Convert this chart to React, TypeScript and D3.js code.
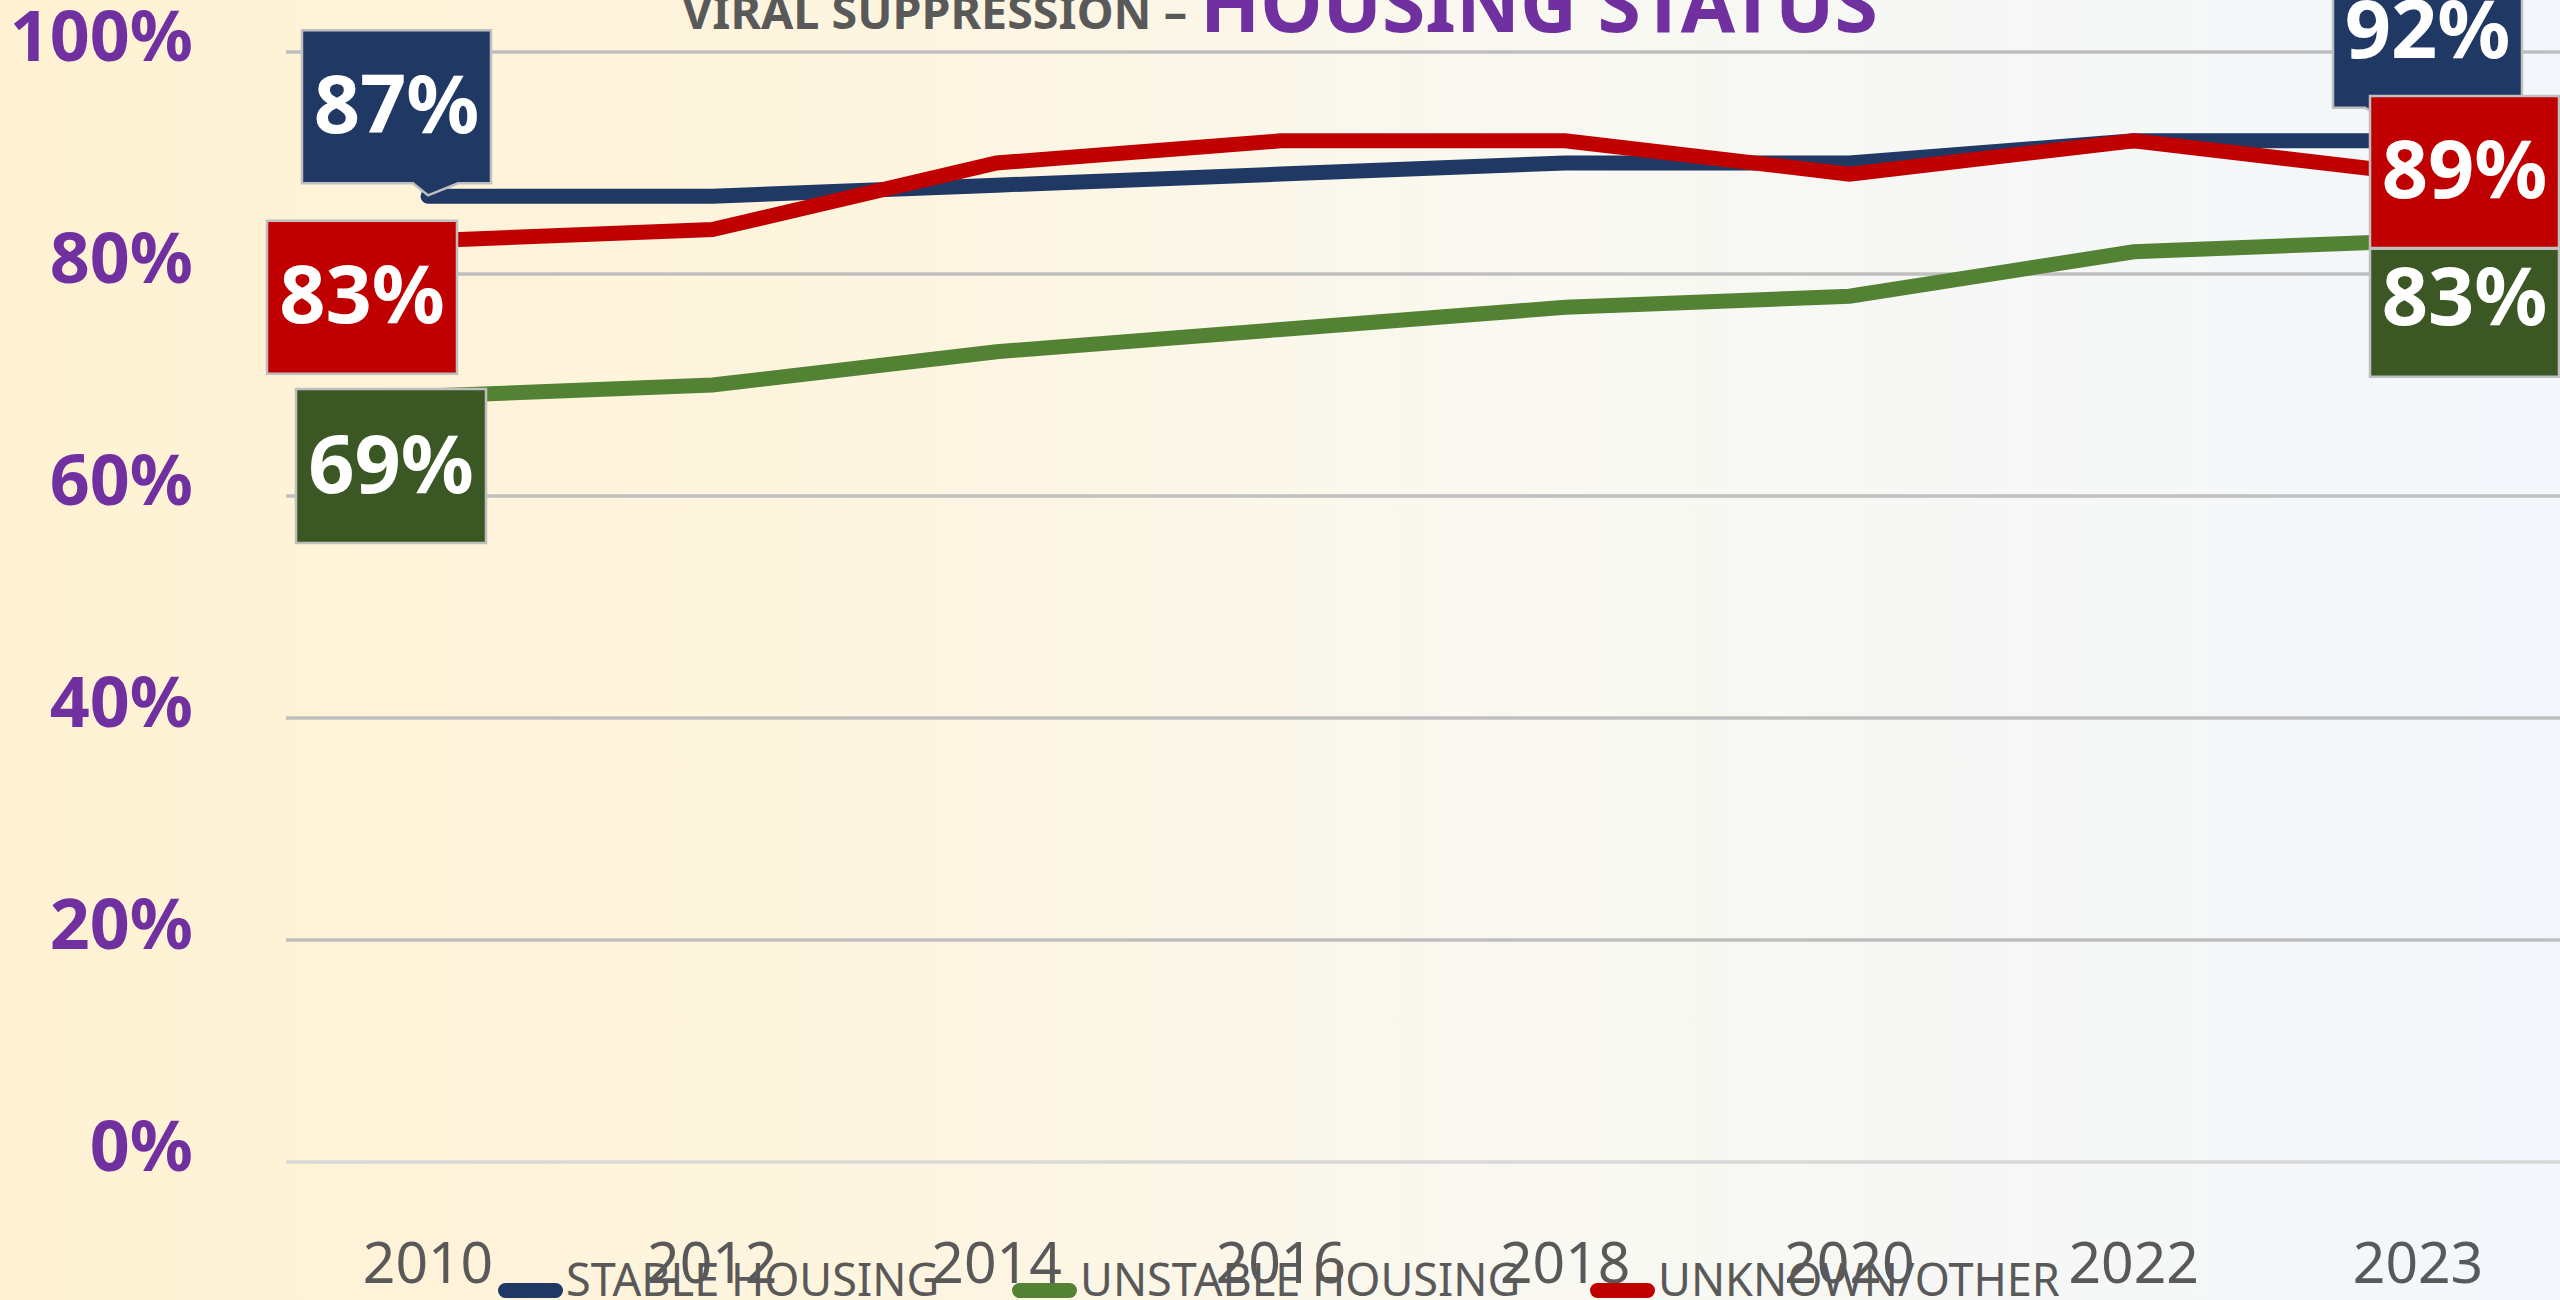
import React from "react";
import * as d3 from "d3";

const years = ["2010", "2012", "2014", "2016", "2018", "2020", "2022", "2023"];
const stableHousing = [87, 87, 88, 89, 90, 90, 92, 92];
const unstableHousing = [69, 70, 73, 75, 77, 78, 82, 83];
const unknownOther = [83, 84, 90, 92, 92, 89, 92, 89];
const yTicks = [0, 20, 40, 60, 80, 100];
const seriesNames = ["STABLE HOUSING", "UNSTABLE HOUSING", "UNKNOWN/OTHER"];

const W = 2560;
const H = 1300;

const lineColors = ["#203864", "#548235", "#C00000"];
const boxColors = ["#203864", "#3B5724", "#C00000"];

// label layout: offsets of label boxes relative to their data point
type LabelLayout = { series: number; idx: number; dx: number; dy: number; w: number; h: number; textDy: number; pointer?: boolean; pointerX?: [number, number] };
const labelLayout: LabelLayout[] = [
  { series: 0, idx: 0, dx: -126, dy: -166, w: 189, h: 153, textDy: 103, pointer: true, pointerX: [-15, 30] },
  { series: 0, idx: 7, dx: -85, dy: -186, w: 189, h: 153, textDy: 103, pointer: true, pointerX: [-53, -45] },
  { series: 1, idx: 0, dx: -132, dy: -7, w: 190, h: 154, textDy: 104 },
  { series: 1, idx: 7, dx: -48, dy: 8, w: 189, h: 128, textDy: 76 },
  { series: 2, idx: 0, dx: -161, dy: -20, w: 190, h: 153, textDy: 102 },
  { series: 2, idx: 7, dx: -48, dy: -78, w: 189, h: 152, textDy: 102 },
];

const legendX = [498, 1012, 1590];

export default function App() {
  const series = [stableHousing, unstableHousing, unknownOther];
  const x = d3.scalePoint<string>().domain(years).range([428, 2418]);
  const y = d3.scaleLinear().domain([0, 100]).range([1162, 52]);
  const line = d3
    .line<number>()
    .x((_, i) => x(years[i]) as number)
    .y((d) => y(d));

  const font = "'Noto Sans', 'Open Sans', sans-serif";

  return (
    <svg
      width={W}
      height={H}
      style={{ position: "absolute", left: 0, top: 0, display: "block" }}
      fontFamily={font}
    >
      <defs>
        <linearGradient id="bg" x1="0" y1="0" x2="1" y2="0">
          <stop offset="0" stopColor="#FFF2D3" />
          <stop offset="0.35" stopColor="#FEF5E0" />
          <stop offset="0.6" stopColor="#F9F8F1" />
          <stop offset="1" stopColor="#F3F7FC" />
        </linearGradient>
      </defs>
      <rect x={0} y={0} width={W} height={H} fill="url(#bg)" />

      {/* gridlines */}
      {yTicks.map((t) => (
        <line
          key={t}
          x1={286}
          x2={W}
          y1={y(t)}
          y2={y(t)}
          stroke={t === 0 ? "#D9D9D9" : "#BFBFBF"}
          strokeWidth={3.5}
        />
      ))}

      {/* y tick labels */}
      {yTicks.map((t) => (
        <text
          key={"yl" + t}
          x={193}
          y={y(t) + 9}
          textAnchor="end"
          fontSize={70}
          fontWeight={700}
          fill="#7030A0"
        >
          {t}%
        </text>
      ))}

      {/* x tick labels */}
      {years.map((yr) => (
        <text
          key={yr}
          x={x(yr)}
          y={1283}
          textAnchor="middle"
          fontSize={57}
          fill="#595959"
        >
          {yr}
        </text>
      ))}

      {/* title */}
      <text x={682} y={29} fontSize={47} fontWeight={700} fill="#595959" textLength={505} lengthAdjust="spacingAndGlyphs">
        VIRAL SUPPRESSION –
      </text>
      <text x={1200} y={32} fontSize={78} fontWeight={700} fill="#7030A0" textLength={678} lengthAdjust="spacingAndGlyphs">
        HOUSING STATUS
      </text>

      {/* lines */}
      {series.map((s, i) => (
        <path
          key={"l" + i}
          d={line(s) || ""}
          fill="none"
          stroke={lineColors[i]}
          strokeWidth={15}
          strokeLinecap="round"
          strokeLinejoin="miter"
        />
      ))}

      {/* data labels */}
      {labelLayout.map((lb, k) => {
        const v = series[lb.series][lb.idx];
        const px = x(years[lb.idx]) as number;
        const py = y(v);
        const bx = px + lb.dx;
        const by = py + lb.dy;
        const bottom = by + lb.h;
        let d = `M${bx},${by} H${bx + lb.w} V${bottom}`;
        if (lb.pointer && lb.pointerX) {
          d += ` H${px + lb.pointerX[1]} L${px},${py - 1} L${px + lb.pointerX[0]},${bottom}`;
        }
        d += ` H${bx} Z`;
        return (
          <g key={"lab" + k}>
            <path d={d} fill={boxColors[lb.series]} stroke="#BFBFBF" strokeWidth={2.5} />
            <text
              x={bx + lb.w / 2}
              y={by + lb.textDy}
              textAnchor="middle"
              fontSize={81}
              fontWeight={700}
              fill="#FFFFFF"
            >
              {v}%
            </text>
          </g>
        );
      })}

      {/* legend */}
      {seriesNames.map((n, i) => (
        <g key={"lg" + i}>
          <rect x={legendX[i]} y={1283} width={65} height={15} rx={7.5} fill={lineColors[i]} />
          <text x={legendX[i] + 68} y={1296} fontSize={45} fill="#595959">
            {n}
          </text>
        </g>
      ))}
    </svg>
  );
}
